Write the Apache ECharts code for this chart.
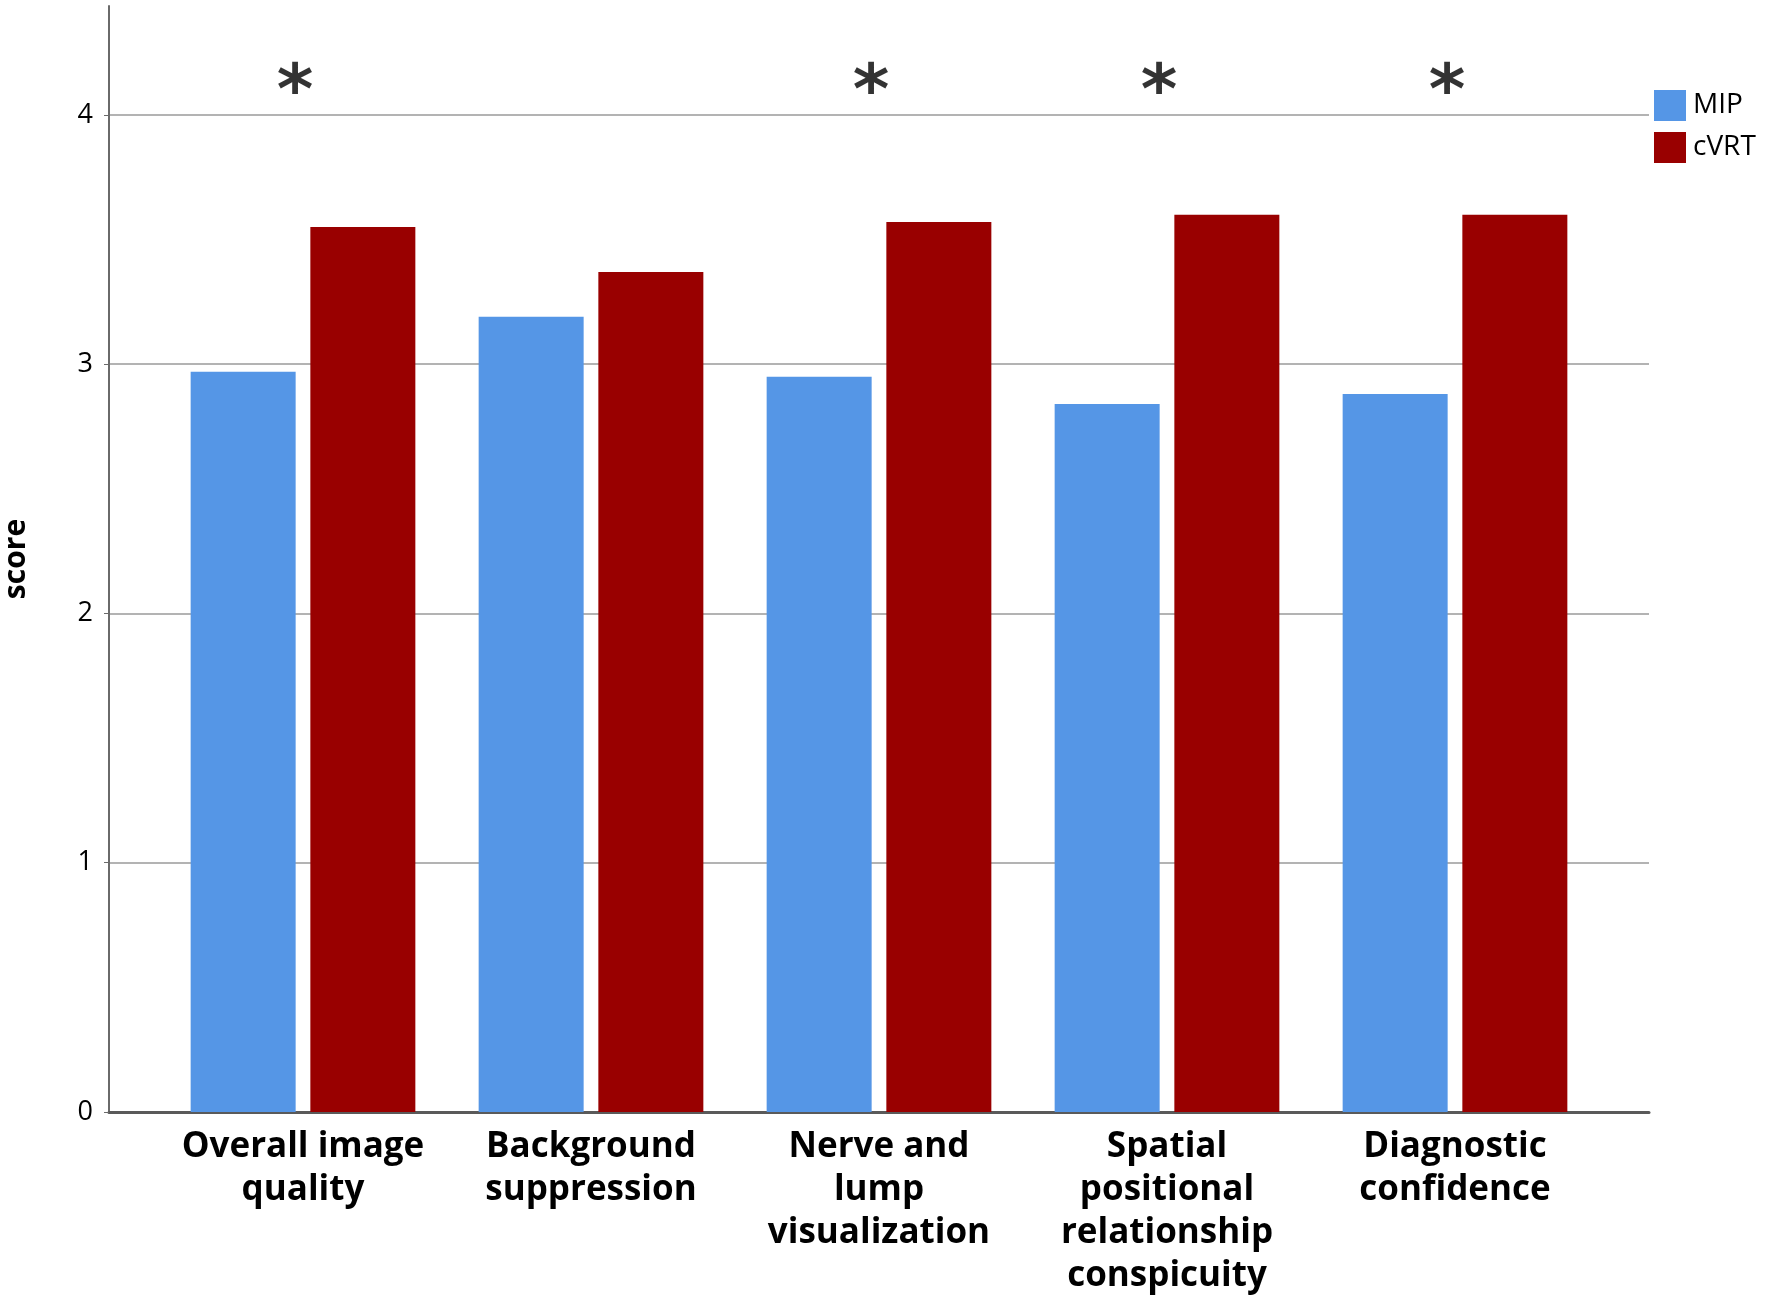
<!DOCTYPE html>
<html>
<head>
<meta charset="utf-8">
<script src="https://cdn.jsdelivr.net/npm/echarts@6/dist/echarts.min.js"></script>
<style>
  html, body { margin: 0; padding: 0; background: #fff; }
  #chart { width: 1767px; height: 1300px; }
</style>
</head>
<body>
<div id="chart"></div>
<script>
// Mean scores
const categories = [
  'Overall image\nquality',
  'Background\nsuppression',
  'Nerve and\nlump\nvisualization',
  'Spatial\npositional\nrelationship\nconspicuity',
  'Diagnostic\nconfidence'
];
const mipScores = [2.97, 3.19, 2.95, 2.84, 2.88];
const cvrtScores = [3.55, 3.37, 3.57, 3.60, 3.60];
// 1 = significant difference (asterisk above the group)
const significant = [1, 0, 1, 1, 1];
const starLevel = 4.14;
const yTicks = [0, 1, 2, 3, 4];

const Y_MAX = 4.437;
const chart = echarts.init(document.getElementById('chart'));

const option = {
  backgroundColor: '#fff',
  animation: false,
  // grid 0 draws the frame (axes + grid lines), grid 1 holds the bars
  grid: [
    { left: 109, right: 118, top: 6, bottom: 188, outerBoundsMode: 'none', containLabel: false },
    { left: 159, right: 168, top: 6, bottom: 188, outerBoundsMode: 'none', containLabel: false }
  ],
  legend: {
    left: 1649,
    top: 85,
    orient: 'vertical',
    itemWidth: 32,
    itemHeight: 31,
    itemGap: 11,
    icon: 'rect',
    data: ['MIP', 'cVRT'],
    textStyle: { fontFamily: 'Open Sans', fontSize: 28, color: '#000', padding: [0, 0, 0, 2] }
  },
  xAxis: [
    {
      type: 'category',
      gridIndex: 0,
      data: [''],
      axisLine: { show: true, lineStyle: { color: '#5a5a5a', width: 3 } },
      axisTick: { show: false },
      axisLabel: { show: false }
    },
    {
      type: 'category',
      gridIndex: 1,
      data: categories,
      axisLine: { show: false },
      axisTick: { show: false },
      axisLabel: {
        interval: 0,
        margin: 14,
        color: '#000',
        fontFamily: 'Open Sans',
        fontWeight: 'bold',
        fontSize: 35,
        lineHeight: 43
      }
    }
  ],
  yAxis: [
    {
      type: 'value',
      gridIndex: 0,
      min: 0,
      max: Y_MAX,
      interval: 1,
      name: 'score',
      nameLocation: 'middle',
      nameGap: 78,
      nameTextStyle: { fontFamily: 'Open Sans', fontWeight: 'bold', fontSize: 30, color: '#000' },
      axisLine: { show: true, lineStyle: { color: '#6a6a6a', width: 2 } },
      axisTick: { show: true, length: 5, customValues: yTicks, lineStyle: { color: '#6a6a6a' } },
      axisLabel: {
        customValues: yTicks,
        margin: 16,
        color: '#000',
        fontFamily: 'Open Sans',
        fontSize: 27
      },
      splitLine: { show: true, lineStyle: { color: '#b3b3b3', width: 2 } }
    },
    {
      type: 'value',
      gridIndex: 1,
      min: 0,
      max: Y_MAX,
      show: false,
      splitLine: { show: false }
    }
  ],
  series: [
    {
      name: 'MIP',
      type: 'bar',
      xAxisIndex: 1,
      yAxisIndex: 1,
      data: mipScores,
      barWidth: 105,
      barGap: '14%',
      itemStyle: { color: '#5596e6' }
    },
    {
      name: 'cVRT',
      type: 'bar',
      xAxisIndex: 1,
      yAxisIndex: 1,
      data: cvrtScores,
      barWidth: 105,
      barGap: '14%',
      itemStyle: { color: '#990000' }
    },
    {
      name: 'sig',
      type: 'scatter',
      xAxisIndex: 1,
      yAxisIndex: 1,
      symbolSize: 0,
      data: significant.map(s => (s ? starLevel : '-')),
      label: {
        show: true,
        position: 'inside',
        formatter: '*',
        offset: [-8, 15],
        color: '#000',
        textBorderWidth: 0,
        fontFamily: 'DejaVu Sans',
        fontWeight: 'bold',
        fontSize: 70
      },
      silent: true
    }
  ]
};

chart.setOption(option);
</script>
</body>
</html>
